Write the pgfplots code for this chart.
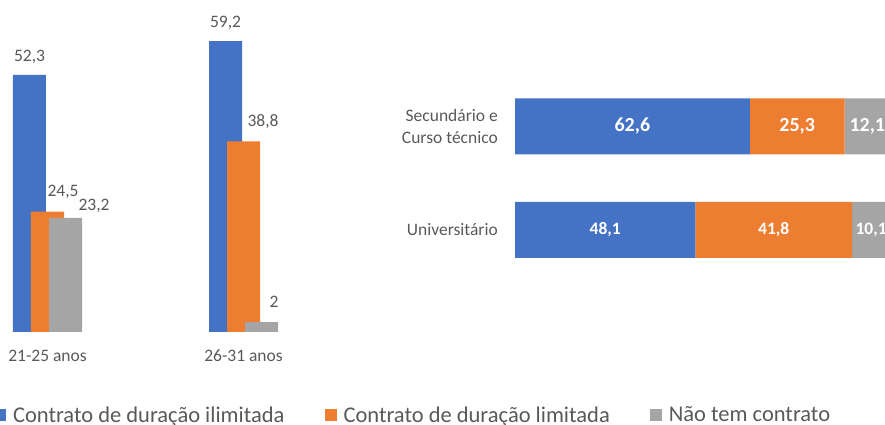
\documentclass[border=0pt]{standalone}
\usepackage{fontspec}
\setmainfont{Carlito}
\usepackage{pgfplots}
\pgfplotsset{compat=1.18}
\definecolor{cblue}{HTML}{4472C4}
\definecolor{corange}{HTML}{ED7D31}
\definecolor{cgray}{HTML}{A5A5A5}
\definecolor{ctext}{HTML}{595959}
\begin{document}
\begin{tikzpicture}[x=1pt,y=1pt,
  lbl/.style={font=\fontsize{17.5}{21}\selectfont, text=ctext, inner sep=0pt, anchor=base},
  inlblA/.style={font=\bfseries\fontsize{20}{24}\selectfont, text=white, inner sep=0pt},
  inlblB/.style={font=\bfseries\fontsize{17.5}{21}\selectfont, text=white, inner sep=0pt}]
\useasboundingbox (0pt,0pt) rectangle (885pt,425pt);
\begin{scope}
\clip (0pt,0pt) rectangle (885pt,425pt);
% ---------- left: grouped vertical bars ----------
\begin{axis}[
  at={(-1.5pt,93pt)}, anchor=south west, scale only axis,
  width=294pt, height=294.9pt,
  xmin=-0.25, xmax=1.25, ymin=0, ymax=60,
  axis line style={draw=none}, tick style={draw=none},
  ytick=\empty, xtick={0,1}, xticklabels={21-25 anos, 26-31 anos},
  xticklabel style={font=\fontsize{17.5}{21}\selectfont, text=ctext, yshift=-10pt},
  ybar, bar width=33pt, clip=false,
  legend columns=3,
  legend style={at={(-0.015,-0.2815)}, anchor=west, draw=none, fill=none,
    inner sep=0pt, outer sep=0pt, nodes={inner sep=0pt},
    font=\fontsize{22.5}{27}\selectfont, text=ctext,
    /tikz/every even column/.append style={column sep=40pt}},
  legend cell align=left,
  legend image code/.code={\fill[#1] (0pt,-6pt) rectangle (12pt,6pt); \path (19pt,0pt);},
]
\addplot[fill=cblue, draw=none, bar shift=-18pt] coordinates {(0,52.3) (1,59.2)};
\addplot[fill=corange, draw=none, bar shift=0pt] coordinates {(0,24.5) (1,38.8)};
\addplot[fill=cgray, draw=none, bar shift=18pt] coordinates {(0,23.2) (1,2)};
\legend{Contrato de duração ilimitada, Contrato de duração limitada, Não tem contrato}
\node[lbl, xshift=-18pt, yshift=13pt] at (axis cs:0,52.3) {52,3};
\node[lbl, xshift=15.5pt, yshift=15pt] at (axis cs:0,24.5) {24,5};
\node[lbl, xshift=46.5pt, yshift=7pt] at (axis cs:0,23.2) {23,2};
\node[lbl, xshift=-18pt, yshift=14pt] at (axis cs:1,59.2) {59,2};
\node[lbl, xshift=19.5pt, yshift=15pt] at (axis cs:1,38.8) {38,8};
\node[lbl, xshift=30.5pt, yshift=15pt] at (axis cs:1,2) {2};
\end{axis}
% ---------- right: stacked horizontal bars ----------
\begin{axis}[
  at={(515pt,143.25pt)}, anchor=south west, scale only axis,
  width=375pt, height=207pt,
  xmin=0, xmax=100, ymin=-0.5, ymax=1.5,
  xbar stacked, bar width=56pt, clip=false,
  axis line style={draw=none}, tick style={draw=none},
  xtick=\empty, ytick={0,1},
  yticklabels={Universitário,{Secundário e\\Curso técnico}},
  yticklabel style={align=right, font=\fontsize{17.5}{21.5}\selectfont, text=ctext, inner sep=0pt, xshift=-17pt},
]
\addplot[fill=cblue, draw=none] coordinates {(62.6,1) (48.1,0)};
\addplot[fill=corange, draw=none] coordinates {(25.3,1) (41.8,0)};
\addplot[fill=cgray, draw=none] coordinates {(12.1,1) (10.1,0)};
\coordinate (a1) at (axis cs:31.3,1);
\coordinate (a2) at (axis cs:75.25,1);
\coordinate (a3) at (axis cs:93.95,1);
\coordinate (b1) at (axis cs:24.05,0);
\coordinate (b2) at (axis cs:69,0);
\coordinate (b3) at (axis cs:94.95,0);
\end{axis}
\node[inlblA] at (a1) {62,6};
\node[inlblA] at (a2) {25,3};
\node[inlblA] at (a3) {12,1};
\node[inlblB] at (b1) {48,1};
\node[inlblB] at (b2) {41,8};
\node[inlblB] at (b3) {10,1};
\end{scope}
\end{tikzpicture}
\end{document}
